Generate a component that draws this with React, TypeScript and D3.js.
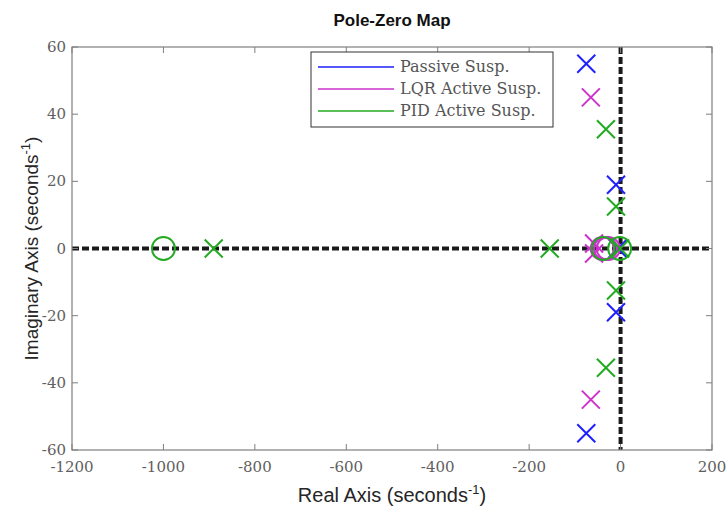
import React from "react";
import * as d3 from "d3";

const xTicks = [-1200, -1000, -800, -600, -400, -200, 0, 200];
const yTicks = [-60, -40, -20, 0, 20, 40, 60];

const seriesNames = ["Passive Susp.", "LQR Active Susp.", "PID Active Susp."];
const seriesColors = ["#1f1fff", "#cc33cc", "#22aa22"];

// [real, imag]
const passivePoles: [number, number][] = [[-75, 55], [-75, -55], [-10, 19], [-10, -19], [-6, 0]];
const passiveZeros: [number, number][] = [];
const lqrPoles: [number, number][] = [[-65, 45], [-65, -45], [-58, 1.5], [-58, -1.5]];
const lqrZeros: [number, number][] = [[-40, 0], [-33, 0], [-27, 0]];
const pidPoles: [number, number][] = [[-890, 0], [-155, 0], [-32, 35.5], [-32, -35.5], [-10, 12.5], [-10, -12.5], [-1, 0]];
const pidZeros: [number, number][] = [[-1000, 0], [-38, 0], [-2, 0]];

const poles = [passivePoles, lqrPoles, pidPoles];
const zeros = [passiveZeros, lqrZeros, pidZeros];

export default function App() {
  const W = 728, H = 511;
  const L = 72, R = 712, T = 47, B = 450;
  const x = d3.scaleLinear().domain([-1200, 200]).range([L, R]);
  const y = d3.scaleLinear().domain([-60, 60]).range([B, T]);
  const axisColor = "#7f7f7f";
  const tickColor = "#606060";
  const serif = "'DejaVu Serif', 'Liberation Serif', serif";
  const sans = "'Liberation Sans', Arial, sans-serif";
  const xs = 9;
  const cr = 11.5;
  return (
    <svg width={W} height={H} style={{ position: "absolute", left: 0, top: 0, background: "#fff" }}>
      <rect x={0} y={0} width={W} height={H} fill="#fff" />
      <text x={(L + R) / 2} y={26} textAnchor="middle" fontFamily={sans} fontWeight="bold" fontSize={17} fill="#111">Pole-Zero Map</text>
      {/* zero lines */}
      <line x1={L} x2={R} y1={y(0)} y2={y(0)} stroke="#1a1a1a" strokeWidth={4} strokeDasharray="7,3" />
      <line x1={x(0)} x2={x(0)} y1={T} y2={B} stroke="#1a1a1a" strokeWidth={4} strokeDasharray="7,3" />
      {/* markers */}
      {poles.map((ps, si) => (
        <g key={"p" + si} stroke={seriesColors[si]} strokeWidth={2} fill="none">
          {zeros[si].map((z, i) => (
            <circle key={"z" + i} cx={x(z[0])} cy={y(z[1])} r={cr} />
          ))}
          {ps.map((p, i) => (
            <path key={i} d={`M${x(p[0]) - xs},${y(p[1]) - xs}L${x(p[0]) + xs},${y(p[1]) + xs}M${x(p[0]) - xs},${y(p[1]) + xs}L${x(p[0]) + xs},${y(p[1]) - xs}`} />
          ))}
        </g>
      ))}
      {/* axes box */}
      <rect x={L} y={T} width={R - L} height={B - T} fill="none" stroke={axisColor} strokeWidth={1.2} />
      {xTicks.map((t) => (
        <g key={"xt" + t}>
          <line x1={x(t)} x2={x(t)} y1={B} y2={B - 6} stroke={axisColor} />
          <line x1={x(t)} x2={x(t)} y1={T} y2={T + 6} stroke={axisColor} />
          <text x={x(t)} y={B + 22} textAnchor="middle" fontFamily={serif} fontSize={15} fill={tickColor}>{t}</text>
        </g>
      ))}
      {yTicks.map((t) => (
        <g key={"yt" + t}>
          <line x1={L} x2={L + 6} y1={y(t)} y2={y(t)} stroke={axisColor} />
          <line x1={R} x2={R - 6} y1={y(t)} y2={y(t)} stroke={axisColor} />
          <text x={L - 6} y={y(t) + 5} textAnchor="end" fontFamily={serif} fontSize={15} fill={tickColor}>{t}</text>
        </g>
      ))}
      {/* axis labels */}
      <text x={(L + R) / 2} y={502} textAnchor="middle" fontFamily={sans} fontSize={20} fill="#262626">
        Real Axis (seconds<tspan dy={-8} fontSize={13}>-1</tspan><tspan dy={8}>)</tspan>
      </text>
      <text transform={`translate(38,${(T + B) / 2}) rotate(-90)`} textAnchor="middle" fontFamily={sans} fontSize={19} fill="#262626">
        Imaginary Axis (seconds<tspan dy={-8} fontSize={13}>-1</tspan><tspan dy={8}>)</tspan>
      </text>
      {/* legend */}
      <rect x={311} y={52} width={242} height={75} fill="#fff" stroke="#333" strokeWidth={1} />
      {seriesNames.map((n, i) => (
        <g key={n}>
          <line x1={318} x2={394} y1={67 + i * 22} y2={67 + i * 22} stroke={seriesColors[i]} strokeWidth={1.5} />
          <text x={400} y={72 + i * 22} fontFamily={serif} fontSize={16} fill="#555">{n}</text>
        </g>
      ))}
    </svg>
  );
}
